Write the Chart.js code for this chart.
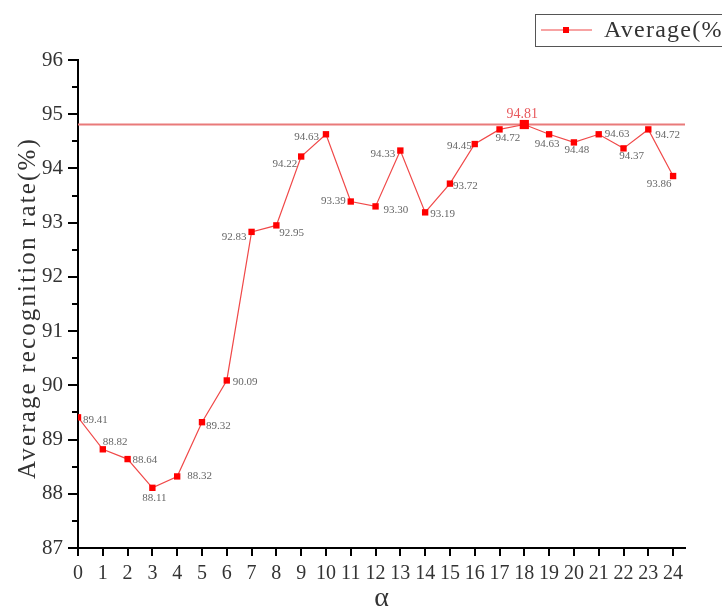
<!DOCTYPE html>
<html>
<head>
<meta charset="utf-8">
<title>Average recognition rate</title>
<style>
html,body{margin:0;padding:0;background:#fff;}
canvas{display:block;}
</style>
</head>
<body>
<canvas id="chart" width="722" height="607"></canvas>
<script src="https://cdn.jsdelivr.net/npm/chart.js@4"></script>
<script>
// data
const alphaValues = [0,1,2,3,4,5,6,7,8,9,10,11,12,13,14,15,16,17,18,19,20,21,22,23,24];
const avgRate = [89.41,88.82,88.64,88.11,88.32,89.32,90.09,92.83,92.95,94.22,94.63,93.39,93.30,94.33,93.19,93.72,94.45,94.72,94.81,94.63,94.48,94.63,94.37,94.72,93.86];
const yTicks = [87,88,89,90,91,92,93,94,95,96];
const seriesName = 'Average(%)';
const yTitle = 'Average recognition rate(%)';
const xTitle = 'α';

// where each value label sits relative to its point: [dx, dy, align]
const labelPlace = [
  [5,3,'left'],[0,-7,'left'],[5,1,'left'],[2,10,'center'],[10,0,'left'],
  [4,4,'left'],[6,2,'left'],[-5,5,'right'],[3,8,'left'],[-4,8,'right'],
  [-7,3,'right'],[-5,0,'right'],[8,4,'left'],[-5,4,'right'],[5,2,'left'],
  [3,2,'left'],[-3,2,'right'],[-4,9,'left'],[-2,-10,'center'],[-2,10,'center'],
  [3,8,'center'],[6,0,'left'],[8,8,'center'],[7,6,'left'],[-14,8,'center']
];

const SERIF = '"Liberation Serif", "Times New Roman", serif';
const maxIdx = avgRate.indexOf(Math.max(...avgRate));

// draw text with extra letter spacing so it spans a given width
function spacedText(ctx, txt, x, y, width){
  ctx.letterSpacing = '0px';
  const w = ctx.measureText(txt).width;
  const sp = Math.max(0, (width - w) / txt.length);
  ctx.letterSpacing = sp + 'px';
  ctx.fillText(txt, x, y);
  ctx.letterSpacing = '0px';
}

const decor = {
  id: 'decor',
  beforeDatasetsDraw(chart){
    const {ctx, chartArea: a, scales: {y}} = chart;
    const py = y.getPixelForValue(avgRate[maxIdx]);
    ctx.save();
    ctx.strokeStyle = '#e97a7a';
    ctx.lineWidth = 2;
    ctx.beginPath(); ctx.moveTo(a.left, py); ctx.lineTo(a.right, py); ctx.stroke();
    ctx.restore();
  },
  afterDraw(chart){
    const {ctx, chartArea: a, scales: {x, y}} = chart;
    ctx.save();
    // minor y ticks
    ctx.strokeStyle = '#000'; ctx.lineWidth = 2;
    yTicks.slice(0, -1).forEach(t => {
      const py = Math.round(y.getPixelForValue(t + 0.5));
      ctx.beginPath(); ctx.moveTo(a.left, py); ctx.lineTo(a.left - 6, py); ctx.stroke();
    });

    // value labels
    ctx.textBaseline = 'middle';
    avgRate.forEach((v, i) => {
      const [dx, dy, al] = labelPlace[i];
      const px = x.getPixelForValue(alphaValues[i]);
      const py = y.getPixelForValue(v);
      if(i === maxIdx){
        ctx.fillStyle = '#e8585c';
        ctx.font = '14px ' + SERIF;
      }else{
        ctx.fillStyle = '#666';
        ctx.font = '11px ' + SERIF;
      }
      ctx.textAlign = al;
      ctx.fillText(v.toFixed(2), px + dx, py + dy);
    });

    // y axis title
    ctx.fillStyle = '#333';
    ctx.font = '25px ' + SERIF;
    ctx.textAlign = 'center';
    ctx.translate(28, (a.top + a.bottom) / 2 + 4);
    ctx.rotate(-Math.PI / 2);
    spacedText(ctx, yTitle, 0, 0, 342);
    ctx.restore();

    // legend
    ctx.save();
    ctx.strokeStyle = '#555'; ctx.lineWidth = 1;
    ctx.strokeRect(535.5, 14.5, 220, 32);
    ctx.strokeStyle = '#f04848'; ctx.lineWidth = 1.2;
    ctx.beginPath(); ctx.moveTo(541, 30); ctx.lineTo(592, 30); ctx.stroke();
    ctx.fillStyle = '#ff0000';
    ctx.fillRect(563, 27, 6, 6);
    ctx.fillStyle = '#333';
    ctx.font = '24px ' + SERIF;
    ctx.textAlign = 'left'; ctx.textBaseline = 'middle';
    spacedText(ctx, seriesName, 604, 31, 128);
    ctx.restore();
  }
};

new Chart(document.getElementById('chart'), {
  type: 'line',
  data: {
    datasets: [{
      label: seriesName,
      data: alphaValues.map((a, i) => ({x: a, y: avgRate[i]})),
      borderColor: '#f04848',
      borderWidth: 1.2,
      backgroundColor: '#ff0000',
      pointBackgroundColor: '#ff0000',
      pointBorderColor: '#ff0000',
      pointBorderWidth: 0,
      pointStyle: 'rect',
      pointRadius: ctx => ctx.dataIndex === maxIdx ? 6.5 : 4.5,
      tension: 0
    }]
  },
  options: {
    responsive: false,
    animation: false,
    events: [],
    layout: {padding: {top: 60, right: 37, left: 0, bottom: 0}},
    plugins: {legend: {display: false}, tooltip: {enabled: false}},
    scales: {
      x: {
        type: 'linear',
        min: alphaValues[0],
        max: 24.48,
        afterBuildTicks: s => { s.ticks = alphaValues.map(v => ({value: v})); },
        afterFit: s => { s.height = 59; },
        grid: {drawOnChartArea: false, drawTicks: true, tickLength: 8, color: '#000', lineWidth: 2},
        border: {display: true, color: '#000', width: 2},
        ticks: {color: '#333', font: {family: SERIF, size: 20}, padding: 6, maxRotation: 0, autoSkip: false},
        title: {display: true, text: xTitle, color: '#333', font: {family: SERIF, size: 28, lineHeight: 0.6}, padding: 0}
      },
      y: {
        min: yTicks[0],
        max: yTicks[yTicks.length - 1],
        afterBuildTicks: s => { s.ticks = yTicks.map(v => ({value: v})); },
        afterFit: s => { s.width = 78; },
        grid: {drawOnChartArea: false, drawTicks: true, tickLength: 10, color: '#000', lineWidth: 2},
        border: {display: true, color: '#000', width: 2},
        ticks: {color: '#333', font: {family: SERIF, size: 21}, padding: 5}
      }
    }
  },
  plugins: [decor]
});
</script>
</body>
</html>
